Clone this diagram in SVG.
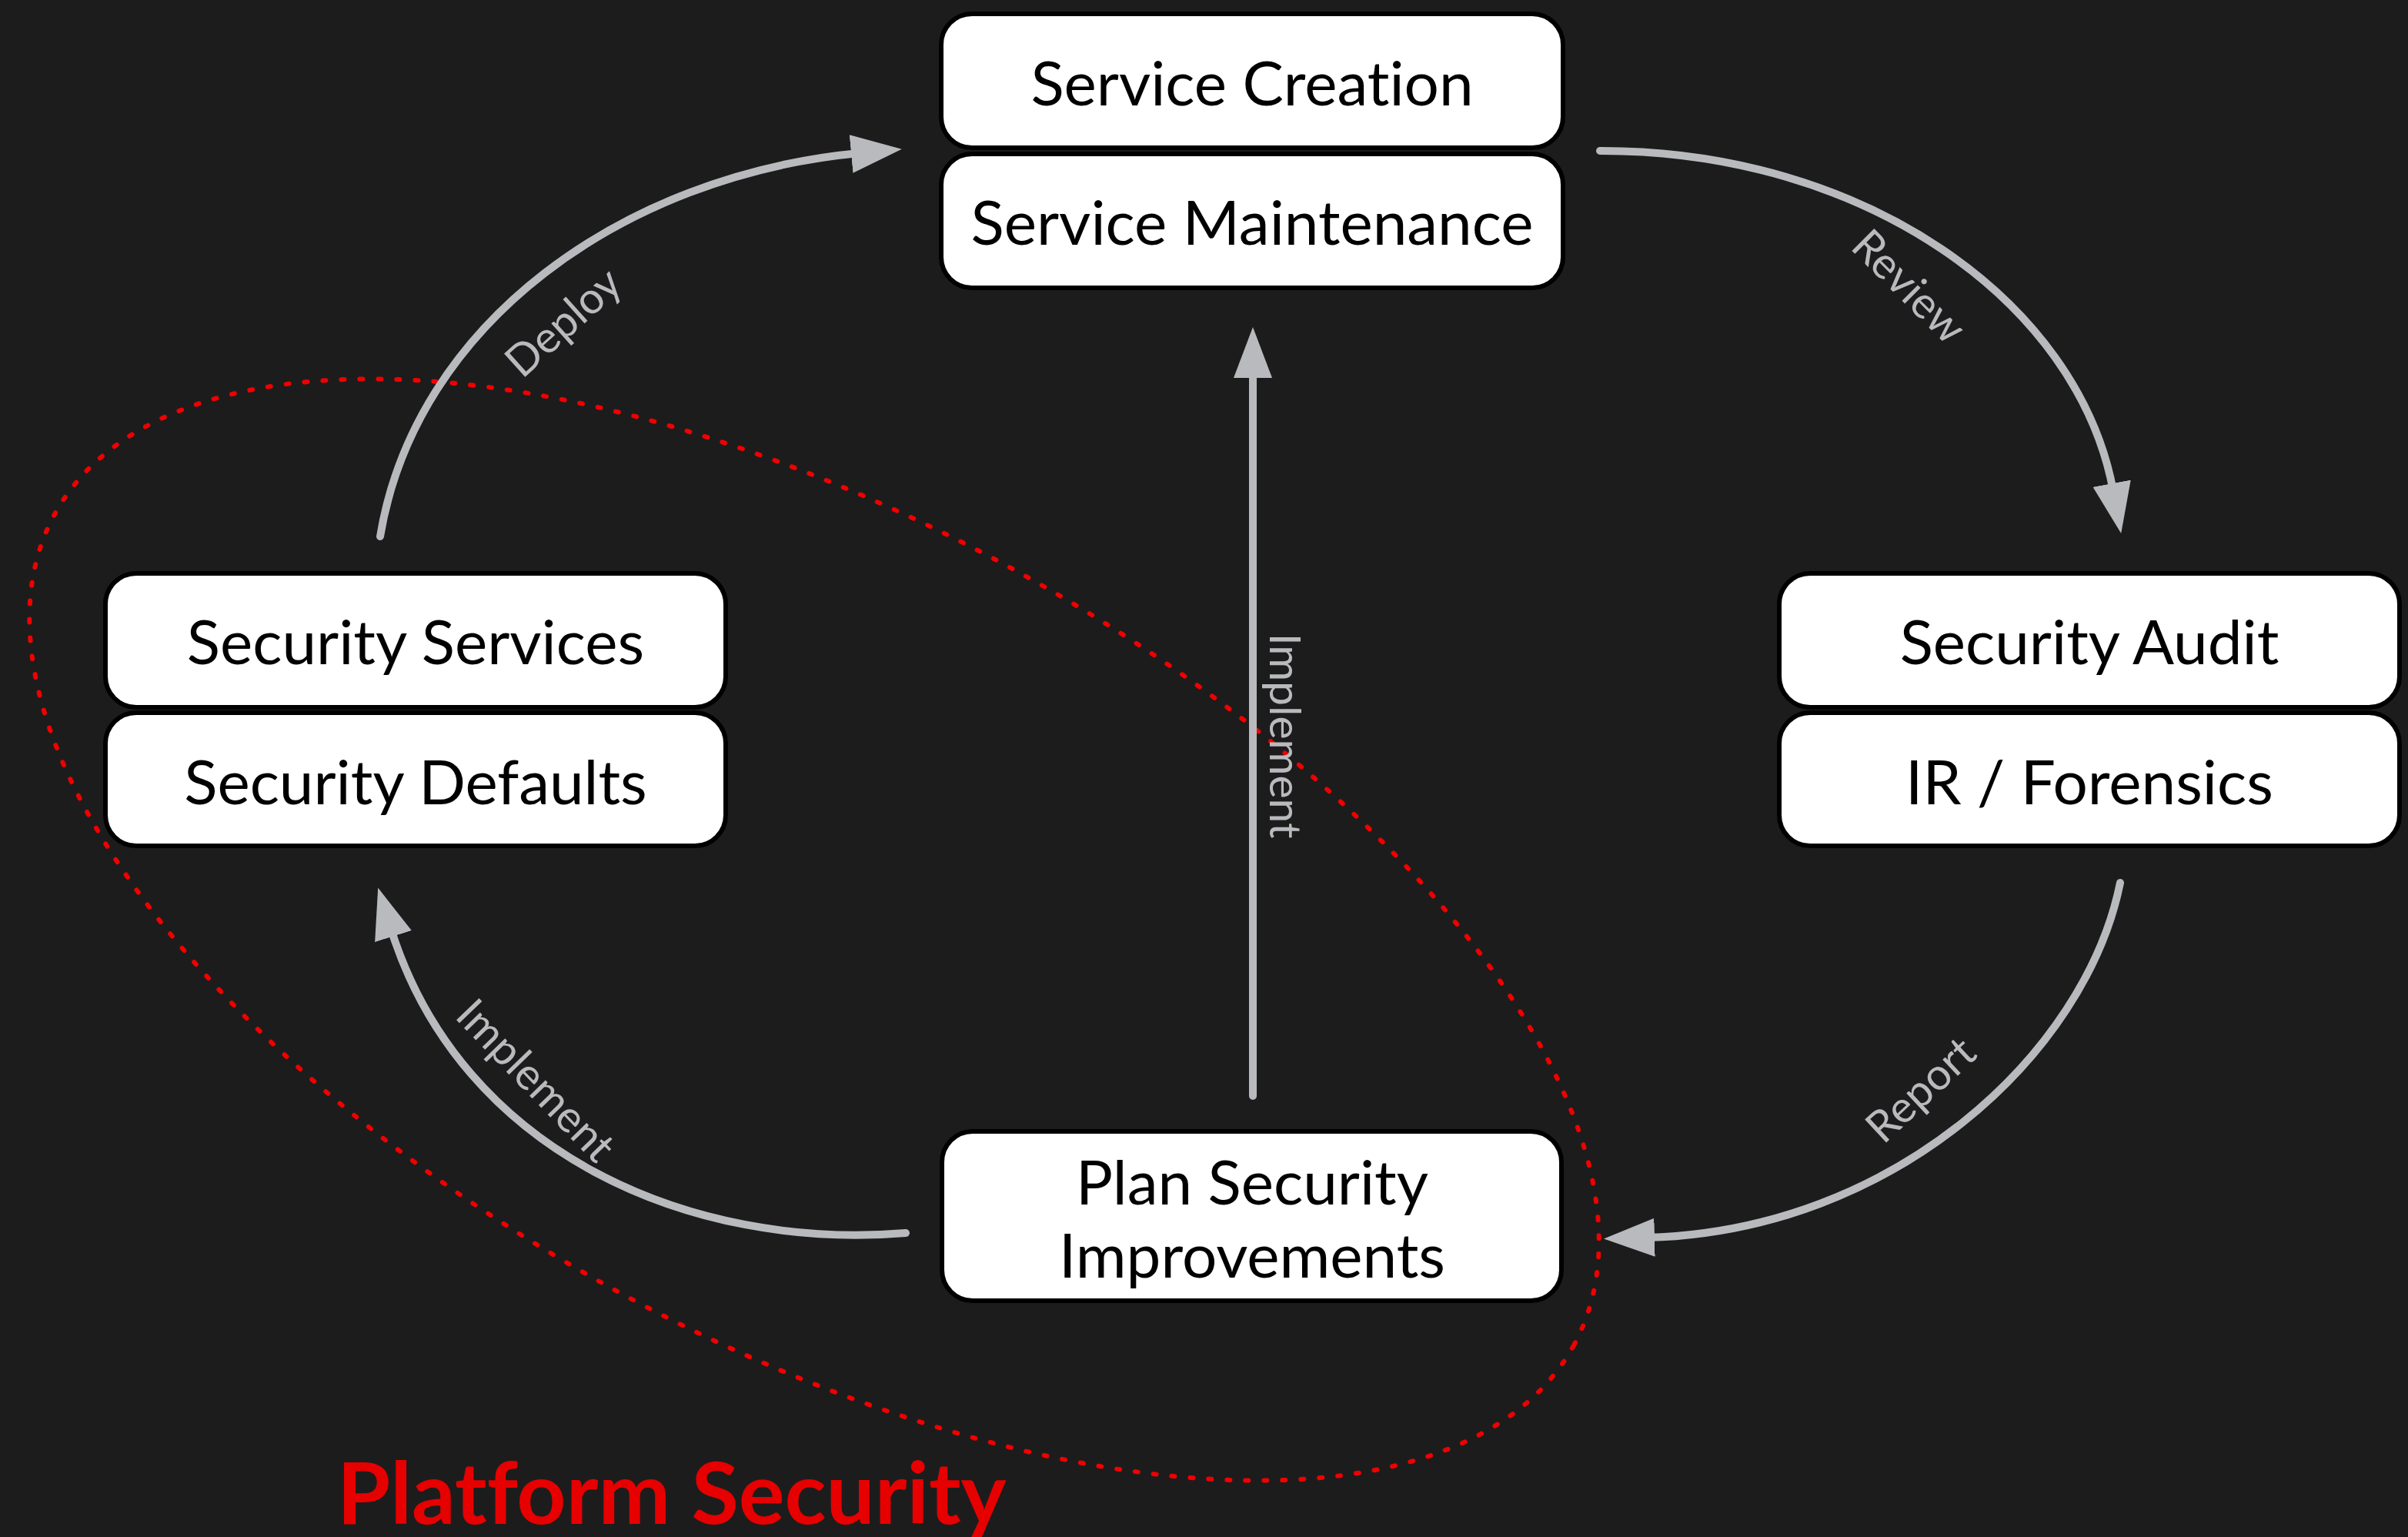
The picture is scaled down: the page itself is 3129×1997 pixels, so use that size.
<svg xmlns="http://www.w3.org/2000/svg" width="3129" height="1997" viewBox="0 0 3129 1997">
  <defs>
    <marker id="head" markerUnits="userSpaceOnUse" viewBox="0 0 66 50" markerWidth="66" markerHeight="50" refX="10" refY="25" orient="auto">
      <path d="M0,0 L66,25 L0,50 z" fill="#b9babe"/>
    </marker>
    <style>
      text { font-variant-ligatures: none; }
      .box { fill: #ffffff; stroke: #000000; stroke-width: 6; }
      .label { font-family: Lato, "Liberation Sans", sans-serif; font-size: 80px; fill: #000000; text-anchor: middle; }
      .edge { fill: none; stroke: #b9babe; stroke-width: 10; stroke-linecap: round; marker-end: url(#head); }
      .edge-label { font-family: Lato, "Liberation Sans", sans-serif; font-weight: 400; font-size: 57px; fill: #b9babe; text-anchor: middle; }
      .zone { fill: none; stroke: #f00000; stroke-width: 6; stroke-linecap: round; stroke-dasharray: 4 20; }
      .zone-title { font-family: Lato, "Liberation Sans", sans-serif; font-weight: 700; font-size: 112px; fill: #e60000; }
    </style>
  </defs>

  <rect width="3129" height="1997" fill="#1d1c1d"/>

  <!-- platform security boundary -->
  <g id="platform-security">
    <ellipse class="zone" cx="1058" cy="1208" rx="1125" ry="535" transform="rotate(28.7 1058 1208)"/>
    <text class="zone-title" x="438" y="1980">Platform Security</text>
  </g>

  <!-- connectors -->
  <g id="connectors">
    <path class="edge" d="M494,697 C540,420 810,228 1116,199"/>
    <path class="edge" d="M2079,196 C2420,195 2700,390 2746,638"/>
    <path class="edge" d="M2755,1147 C2710,1370 2460,1600 2140,1608"/>
    <path class="edge" d="M1177,1602 C900,1625 600,1500 508,1207"/>
    <path class="edge" d="M1628,1424 V481"/>
    <text class="edge-label" transform="translate(733,420) rotate(-42)" y="18">Deploy</text>
    <text class="edge-label" transform="translate(2481,372) rotate(45)" y="20">Review</text>
    <text class="edge-label" transform="translate(2497,1417) rotate(-43)" y="18">Report</text>
    <text class="edge-label" transform="translate(695,1405) rotate(46)" y="18">Implement</text>
    <text class="edge-label" transform="translate(1650,956) rotate(90)">Implement</text>
  </g>

  <!-- service lifecycle -->
  <g id="service">
    <rect class="box" x="1223" y="18" width="808" height="174" rx="40"/>
    <text class="label" x="1627" y="137">Service Creation</text>
    <rect class="box" x="1223" y="200" width="808" height="174" rx="40"/>
    <text class="label" x="1627" y="318">Service Maintenance</text>
  </g>

  <!-- platform building blocks -->
  <g id="security-services">
    <rect class="box" x="137" y="745" width="806" height="174" rx="40"/>
    <text class="label" x="540" y="863">Security Services</text>
    <rect class="box" x="137" y="926" width="806" height="173" rx="40"/>
    <text class="label" x="540" y="1045">Security Defaults</text>
  </g>

  <!-- audit and response -->
  <g id="security-audit">
    <rect class="box" x="2312" y="745" width="806" height="174" rx="40"/>
    <text class="label" x="2715" y="863">Security Audit</text>
    <rect class="box" x="2312" y="926" width="806" height="173" rx="40"/>
    <text class="label" x="2715" y="1045">IR / Forensics</text>
  </g>

  <!-- planning -->
  <g id="plan">
    <rect class="box" x="1224" y="1470" width="805" height="220" rx="40"/>
    <text class="label" x="1627" y="1565">Plan Security</text>
    <text class="label" x="1627" y="1660">Improvements</text>
  </g>
</svg>
